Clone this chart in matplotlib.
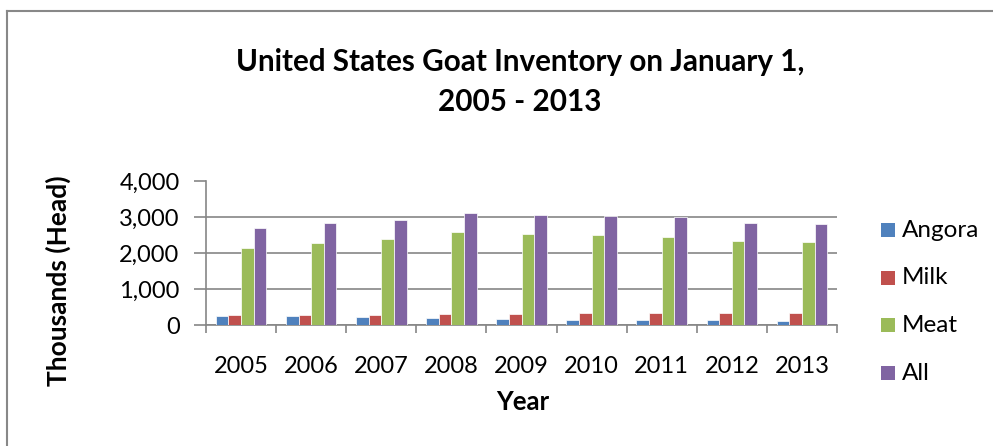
import numpy as np
import matplotlib.pyplot as plt
from matplotlib.lines import Line2D
from matplotlib.patches import Rectangle

years = ["2005", "2006", "2007", "2008", "2009", "2010", "2011", "2012", "2013"]
angora = [260, 250, 220, 195, 170, 150, 150, 130, 120]
milk = [270, 270, 270, 305, 305, 335, 335, 335, 335]
meat = [2140, 2280, 2390, 2590, 2540, 2510, 2455, 2345, 2300]
all_goats = [2700, 2840, 2930, 3115, 3070, 3040, 3005, 2855, 2810]

series = [("Angora", angora, "#4F81BD"), ("Milk", milk, "#C0504D"),
          ("Meat", meat, "#9BBB59"), ("All", all_goats, "#8064A2")]

plt.rcParams['font.family'] = ['Lato', 'DejaVu Sans']

W, H = 993, 446
fig = plt.figure(figsize=(W / 100, H / 100), dpi=100)
ax = fig.add_axes([206/W, 1 - 325/H, (837-206)/W, (325-181.5)/H])

# chart-area border: only top and left edges are visible in the crop
fig.add_artist(Line2D([7/W, 7/W], [0, 1 - 11/H], transform=fig.transFigure, color="#888888", lw=1.5))
fig.add_artist(Line2D([7/W, 1], [1 - 11/H, 1 - 11/H], transform=fig.transFigure, color="#888888", lw=1.5))

x = np.arange(len(years))
w = 0.18
for i, (name, vals, col) in enumerate(series):
    ax.bar(x + (i - 1.5) * w, vals, w, color=col, edgecolor="white", linewidth=0.5, label=name, zorder=3)

ax.set_xlim(-0.5, len(years) - 0.5)
ax.set_ylim(0, 4000)
ax.set_yticks([0, 1000, 2000, 3000, 4000])
ax.set_yticklabels(["0", "1,000", "2,000", "3,000", "4,000"])
ax.set_xticks(x)
ax.set_xticklabels(years)
ax.tick_params(axis='x', length=0, labelsize=17, pad=22)
# category separator ticks below the x axis
ax.vlines(np.arange(-0.5, len(years)), -8 / 143.5, 0, transform=ax.get_xaxis_transform(),
          color="#868686", linewidth=1.2, clip_on=False)
ax.tick_params(axis='y', length=9, color="#868686", width=1.2, labelsize=17, pad=10)
ax.yaxis.grid(True, color="#868686", linewidth=1.2, zorder=0)
for s in ["top", "right"]:
    ax.spines[s].set_visible(False)
for s in ["left", "bottom"]:
    ax.spines[s].set_color("#868686")
    ax.spines[s].set_linewidth(1.2)

fig.text(523/W, 1 - 402/H, "Year", ha="center", va="center", fontsize=18.5, fontweight="bold")
fig.text(58/W, 1 - 281/H, "Thousands (Head)", ha="center", va="center", rotation=90,
         fontsize=19, fontweight="bold")
fig.text(520/W, 1 - 82/H, "United States Goat Inventory on January 1,\n2005 - 2013",
         ha="center", va="center", fontsize=21.3, fontweight="bold", linespacing=1.5)

# legend, laid out like the spreadsheet one
for i, (name, vals, col) in enumerate(series):
    yc = 230 + i * 47.7
    fig.add_artist(Rectangle((881/W, 1 - (yc + 7)/H), 14/W, 14/H, transform=fig.transFigure,
                             facecolor=col, edgecolor="none"))
    fig.text(902/W, 1 - yc/H, name, ha="left", va="center", fontsize=17.5)

fig.savefig("out.png", dpi=100)
